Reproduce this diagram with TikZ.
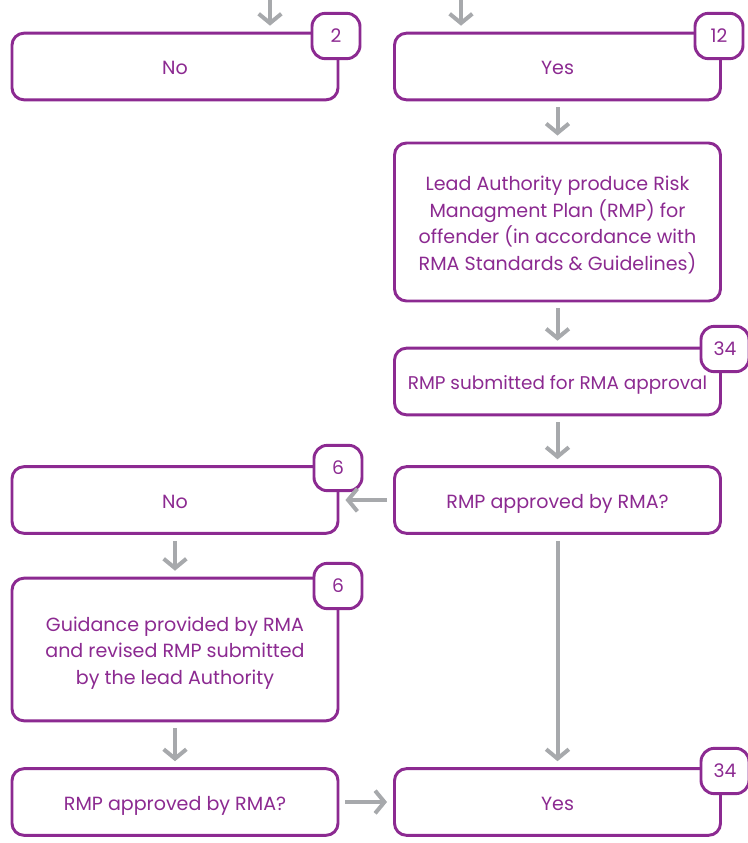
\documentclass[tikz,border=0pt]{standalone}
\usepackage{fontspec}
\setmainfont{Poppins}
\usetikzlibrary{arrows.meta}
\definecolor{rmapurple}{HTML}{8C2A91}
\definecolor{flowgrey}{HTML}{A7A9AC}
\tikzset{
  flowbox/.style={draw=rmapurple, line width=2.2pt, rounded corners=9pt, fill=white,
    text=rmapurple, align=center, minimum width=244.5pt, minimum height=50pt,
    inner sep=0pt, font=\fontsize{14.3}{20}\selectfont},
  oneline/.style={text height=12pt, text depth=0pt},
  badge/.style={draw=rmapurple, line width=2.2pt, rounded corners=10pt, fill=white,
    text=rmapurple, minimum width=36pt, minimum height=34pt, inner sep=0pt,
    font=\fontsize{14}{16}\selectfont},
  arr/.style={draw=flowgrey, line width=3pt, -{Straight Barb[length=7pt,width=17pt,line width=3pt]},
    shorten >=4.5pt, shorten <=4.5pt}
}
\begin{document}
\begin{tikzpicture}[x=0.75pt, y=-0.75pt, line join=round]
	\useasboundingbox (0,0) rectangle (748,843);
	
	\coordinate (t1) at (270,-6);
	\coordinate (t2) at (461,-6);
	
	\node[flowbox, oneline] (no1) at (175,66.5) {No};
	\node[flowbox, oneline] (yes1) at (557.5,66.5) {Yes};
	\node[flowbox, minimum height=118.5pt] (lead) at (557.5,222)
		{\rule{0pt}{15.5pt}Lead Authority produce Risk\\Managment Plan (RMP) for\\offender (in accordance with\\RMA Standards \& Guidelines)};
	\node[flowbox, oneline, font=\fontsize{13.8}{20}\selectfont] (sub) at (557.5,381.5) {RMP submitted for RMA approval};
	\node[flowbox, oneline] (ap1) at (557.5,500) {RMP approved by RMA?};
	\node[flowbox, oneline] (no2) at (175,500) {No};
	\node[flowbox, minimum height=107pt] (guid) at (175,649.5)
		{\rule{0pt}{16pt}Guidance provided by RMA\\and revised RMP submitted\\by the lead Authority};
	\node[flowbox, oneline] (ap2) at (175,802) {RMP approved by RMA?};
	\node[flowbox, oneline] (yes2) at (557.5,802) {Yes};
	
	\node[badge] (b2) at (336,36) {2};
	\node[badge] (b12) at (719,36) {12};
	\node[badge] (b34a) at (725,349) {34};
	\node[badge] (b6a) at (338,468) {6};
	\node[badge] (b6b) at (338,586) {6};
	\node[badge] (b34b) at (725,771) {34};
	
	\draw[arr, shorten <=0pt] (t1) -- (t1 |- no1.north);
	\draw[arr, shorten <=0pt] (t2) -- (t2 |- yes1.north);
	\draw[arr] (yes1) -- (lead);
	\draw[arr] (lead) -- (sub);
	\draw[arr] (sub) -- (ap1);
	\draw[arr] (ap1) -- (no2);
	\draw[arr] (ap1) -- (yes2);
	\draw[arr] (no2) -- (guid);
	\draw[arr] (guid) -- (ap2);
	\draw[arr] (ap2) -- (yes2);
\end{tikzpicture}
\end{document}
